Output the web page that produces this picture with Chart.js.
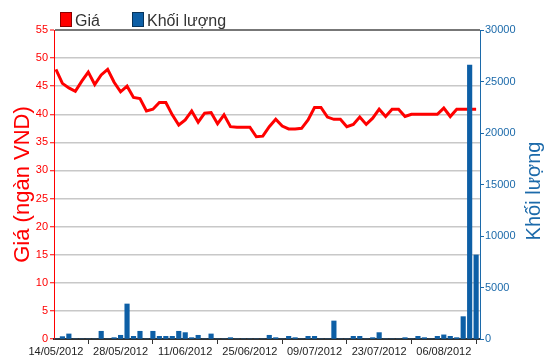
<!DOCTYPE html>
<html>
<head>
<meta charset="utf-8">
<script src="https://cdn.jsdelivr.net/npm/chart.js@4.4.1/dist/chart.umd.min.js"></script>
<style>
  html, body { margin: 0; padding: 0; background: #fff; }
</style>
</head>
<body>
<canvas id="chart" width="550" height="364"></canvas>
<script>
// trading days shown on the x axis
var dates = [
  "14/05/2012", "15/05/2012", "16/05/2012", "17/05/2012", "18/05/2012",
  "21/05/2012", "22/05/2012", "23/05/2012", "24/05/2012", "25/05/2012",
  "28/05/2012", "29/05/2012", "30/05/2012", "31/05/2012", "01/06/2012",
  "04/06/2012", "05/06/2012", "06/06/2012", "07/06/2012", "08/06/2012",
  "11/06/2012", "12/06/2012", "13/06/2012", "14/06/2012", "15/06/2012",
  "18/06/2012", "19/06/2012", "20/06/2012", "21/06/2012", "22/06/2012",
  "25/06/2012", "26/06/2012", "27/06/2012", "28/06/2012", "29/06/2012",
  "02/07/2012", "03/07/2012", "04/07/2012", "05/07/2012", "06/07/2012",
  "09/07/2012", "10/07/2012", "11/07/2012", "12/07/2012", "13/07/2012",
  "16/07/2012", "17/07/2012", "18/07/2012", "19/07/2012", "20/07/2012",
  "23/07/2012", "24/07/2012", "25/07/2012", "26/07/2012", "27/07/2012",
  "30/07/2012", "31/07/2012", "01/08/2012", "02/08/2012", "03/08/2012",
  "06/08/2012", "07/08/2012", "08/08/2012", "09/08/2012", "10/08/2012",
  "13/08/2012"
];

// price, thousand VND
var prices = [
  48.0, 45.5, 44.7, 44.1, 45.9, 47.5, 45.3, 47.0, 48.0, 45.7,
  44.0, 45.0, 43.0, 42.8, 40.6, 40.9, 42.1, 42.1, 39.9, 38.1,
  39.0, 40.6, 38.6, 40.2, 40.3, 38.3, 39.9, 37.8, 37.7, 37.7,
  37.7, 36.0, 36.1, 37.8, 39.1, 37.9, 37.4, 37.4, 37.5, 39.0,
  41.2, 41.2, 39.5, 39.1, 39.1, 37.8, 38.2, 39.5, 38.2, 39.3,
  40.9, 39.6, 40.9, 40.9, 39.6, 40.0, 40.0, 40.0, 40.0, 40.0,
  41.1, 39.6, 40.9, 40.9, 40.9, 40.9
];

// traded volume
var volumes = [
  0, 230, 490, 0, 0, 0, 0, 750, 0, 130,
  360, 3400, 260, 750, 0, 750, 260, 260, 260, 750,
  620, 130, 360, 0, 490, 0, 0, 130, 0, 0,
  0, 0, 0, 360, 130, 0, 260, 130, 0, 260,
  260, 0, 0, 1750, 0, 0, 260, 260, 0, 130,
  620, 0, 0, 0, 130, 0, 260, 130, 0, 260,
  400, 260, 130, 2170, 26600, 8160
];

var RED = "#ff0000";
var BLUE = "#0d5fa6";
var BLUE_TEXT = "#1c6aaa";

// legend + right axis title (drawn bottom-to-top like the original)
var extras = {
  id: "extras",
  afterDraw: function (chart) {
    var c = chart.ctx;
    c.save();
    c.font = "16px 'Liberation Sans', Arial, sans-serif";
    c.textBaseline = "alphabetic";
    c.fillStyle = RED;
    c.fillRect(60, 12, 12, 15);
    c.strokeStyle = "rgba(0,0,0,0.45)";
    c.lineWidth = 1;
    c.strokeRect(60.5, 12.5, 11, 14);
    c.fillStyle = "#333";
    c.fillText("Giá", 75, 26);
    c.fillStyle = BLUE;
    c.fillRect(132, 12, 12, 15);
    c.strokeRect(132.5, 12.5, 11, 14);
    c.fillStyle = "#333";
    c.fillText("Khối lượng", 147, 26);

    c.translate(534, 191);
    c.rotate(-Math.PI / 2);
    c.textAlign = "center";
    c.textBaseline = "middle";
    c.font = "20px 'Liberation Sans', Arial, sans-serif";
    c.fillStyle = BLUE_TEXT;
    c.fillText("Khối lượng", 0, 0);
    c.restore();
  }
};

var ctx = document.getElementById("chart").getContext("2d");
var chart = new Chart(ctx, {
  type: "bar",
  data: {
    datasets: [
      {
        type: "bar",
        label: "Khối lượng",
        yAxisID: "yVol",
        data: volumes.map(function (v, i) { return { x: i, y: v }; }),
        backgroundColor: BLUE,
        barThickness: 4.5,
        order: 0
      },
      {
        type: "line",
        label: "Giá",
        yAxisID: "yPrice",
        data: prices.map(function (v, i) { return { x: i, y: v }; }),
        borderColor: RED,
        borderWidth: 3,
        pointRadius: 0,
        tension: 0,
        order: 1
      }
    ]
  },
  options: {
    responsive: false,
    animation: false,
    devicePixelRatio: 1,
    layout: { padding: { top: 30, left: 0, right: 0, bottom: 0 } },
    plugins: {
      legend: { display: false },
      tooltip: { enabled: false }
    },
    scales: {
      x: {
        type: "linear",
        min: -0.3,
        max: 65.6,
        offset: false,
        afterFit: function (s) { s.height = 25; },
        ticks: {
          stepSize: 10,
          includeBounds: false,
          autoSkip: false,
          maxRotation: 0,
          padding: 1,
          color: "#222",
          font: { family: "'Liberation Sans', Arial", size: 11 },
          callback: function (v) { return Number.isInteger(v) ? (dates[v] || "") : ""; }
        },
        grid: { drawOnChartArea: false, tickLength: 5, tickColor: "#333" },
        border: { color: "#333", width: 2 }
      },
      yPrice: {
        position: "left",
        min: 0,
        max: 55,
        afterFit: function (s) { s.width = 54; },
        ticks: {
          stepSize: 5,
          padding: 2,
          color: RED,
          font: { family: "'Liberation Sans', Arial", size: 11 }
        },
        grid: {
          color: function (c) {
            if (c.tick && c.tick.value === 55) return "#777";
            if (c.tick && c.tick.value === 0) return "#333";
            return "#c8c8c8";
          },
          lineWidth: function (c) { return c.tick && c.tick.value === 55 ? 2 : 1.5; },
          tickColor: RED,
          tickLength: 4,
          tickWidth: 1
        },
        border: { color: RED, width: 1 },
        title: {
          display: true,
          text: "Giá (ngàn VND)",
          color: RED,
          font: { family: "'Liberation Sans', Arial", size: 22 },
          padding: { top: 10, bottom: 0 }
        }
      },
      yVol: {
        position: "right",
        min: 0,
        max: 30000,
        afterFit: function (s) { s.width = 70; },
        ticks: {
          stepSize: 5000,
          padding: 1,
          color: BLUE_TEXT,
          font: { family: "'Liberation Sans', Arial", size: 11 },
          callback: function (v) { return String(v); }
        },
        grid: { drawOnChartArea: false, tickColor: BLUE_TEXT, tickLength: 4 },
        border: { color: BLUE_TEXT, width: 1 }
      }
    }
  },
  plugins: [extras]
});
</script>
</body>
</html>
